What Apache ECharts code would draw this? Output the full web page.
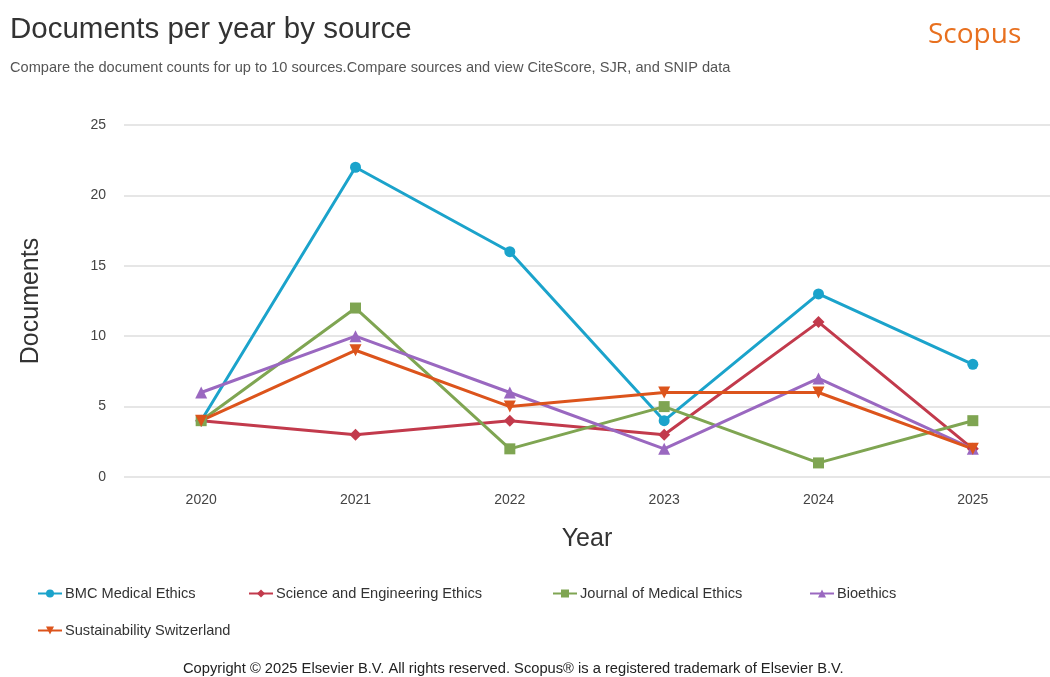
<!DOCTYPE html>
<html><head><meta charset="utf-8">
<script src="https://cdn.jsdelivr.net/npm/echarts@6/dist/echarts.min.js"></script>
<style>html,body{margin:0;padding:0;background:#fff}#c{width:1050px;height:677px}</style>
</head><body><div id="c"></div>
<script>
const years = ['2020','2021','2022','2023','2024','2025'];
const bmc = [4, 22, 16, 4, 13, 8];
const sciEng = [4, 3, 4, 3, 11, 2];
const jme = [4, 12, 2, 5, 1, 4];
const bioethics = [6, 10, 6, 2, 7, 2];
const sustain = [4, 9, 5, 6, 6, 2];
const yTicks = [0, 25, 5];

const seriesDefs = [
  {name:'BMC Medical Ethics', data:bmc, color:'#1ba3cb', symbol:'circle', size:11},
  {name:'Science and Engineering Ethics', data:sciEng, color:'#c23a4c', symbol:'diamond', size:12},
  {name:'Journal of Medical Ethics', data:jme, color:'#7fa552', symbol:'rect', size:11},
  {name:'Bioethics', data:bioethics, color:'#9a68c0', symbol:'triangle', size:12},
  {name:'Sustainability Switzerland', data:sustain, color:'#dc541c', symbol:'path://M0,0L10,0L5,9Z', size:12}
];
const legendPos = [[32,581],[243,581],[547,581],[804,581],[32,618]];
const F = 'Liberation Sans, Arial';

const chart = echarts.init(document.getElementById('c'));
chart.setOption({
  backgroundColor:'#fff',
  animation:false,
  title:[
    {text:'Documents per year by source', left:5, top:10, textStyle:{fontFamily:F, fontSize:29.5, fontWeight:'normal', color:'#333'}},
    {text:'Compare the document counts for up to 10 sources.Compare sources and view CiteScore, SJR, and SNIP data', left:5, top:55, textStyle:{fontFamily:F, fontSize:14.6, fontWeight:'normal', color:'#555'}},
    {text:'Scopus', left:923, top:16, textStyle:{fontFamily:'Open Sans, Noto Sans', fontSize:28, fontWeight:'normal', color:'#e8701f'}},
    {text:'Copyright © 2025 Elsevier B.V. All rights reserved. Scopus® is a registered trademark of Elsevier B.V.', left:178, top:656, textStyle:{fontFamily:F, fontSize:14.7, fontWeight:'normal', color:'#222'}}
  ],
  legend: seriesDefs.map((s,i)=>({
    data:[s.name], left:legendPos[i][0], top:legendPos[i][1],
    itemWidth:24, itemHeight:10, itemGap:10, padding:5,
    textStyle:{fontFamily:F, fontSize:14.6, color:'#333', padding:[0,0,0,-2]}
  })),
  grid:{left:124, top:125, width:931, height:352},
  xAxis:{
    type:'category', data:years, boundaryGap:true,
    name:'Year', nameLocation:'middle', nameGap:50,
    nameTextStyle:{fontFamily:F, fontSize:25, color:'#333'},
    axisLine:{show:false}, axisTick:{show:false},
    axisLabel:{margin:16, fontFamily:F, fontSize:14, color:'#444'}
  },
  yAxis:{
    type:'value', min:yTicks[0], max:yTicks[1], interval:yTicks[2],
    name:'Documents', nameLocation:'middle', nameGap:80, nameRotate:90,
    nameTextStyle:{fontFamily:F, fontSize:25, color:'#333'},
    axisLine:{show:false}, axisTick:{show:false},
    axisLabel:{margin:18, fontFamily:F, fontSize:14, color:'#444'},
    splitLine:{lineStyle:{color:'#dedede', width:1.5}}
  },
  series: seriesDefs.map(s=>({
    name:s.name, type:'line', data:s.data,
    symbol:s.symbol, symbolSize:s.size, showAllSymbol:true,
    lineStyle:{width:3, color:s.color}, itemStyle:{color:s.color},
    emphasis:{disabled:true}
  }))
});
</script></body></html>
